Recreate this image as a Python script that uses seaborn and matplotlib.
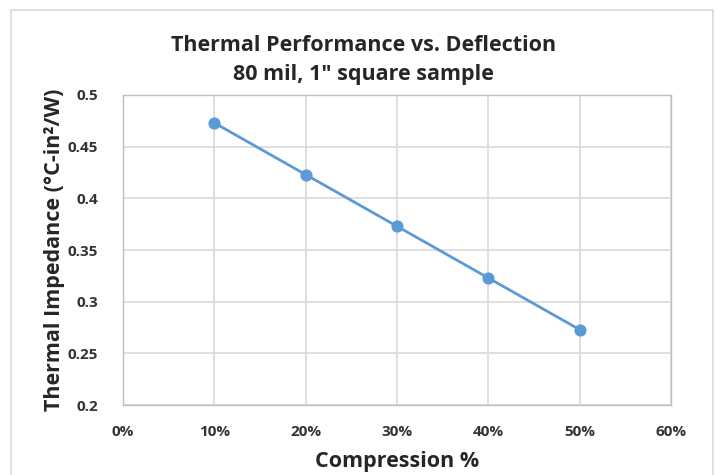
import matplotlib
matplotlib.use("Agg")
import matplotlib.pyplot as plt
import matplotlib.patches as mpatches
from matplotlib.ticker import FuncFormatter
import seaborn as sns
import pandas as pd

compression = [0.10, 0.20, 0.30, 0.40, 0.50]
impedance = [0.473, 0.423, 0.373, 0.323, 0.273]
x_ticks = [0, 0.1, 0.2, 0.3, 0.4, 0.5, 0.6]
y_ticks = [0.2, 0.25, 0.3, 0.35, 0.4, 0.45, 0.5]

sns.set_style("whitegrid")
plt.rcParams['font.family'] = ['Open Sans', 'DejaVu Sans']

df = pd.DataFrame({"compression": compression, "impedance": impedance})

fig = plt.figure(figsize=(7.17, 4.75), dpi=100)
ax = fig.add_axes([0.1716, 0.147, 0.7644, 0.653])

# outer chart frame
fig.patches.append(mpatches.Rectangle((0.016, -0.01), 0.978, 0.99, transform=fig.transFigure,
                                      fill=False, edgecolor="#d9d9d9", linewidth=1.2))

sns.lineplot(data=df, x="compression", y="impedance", ax=ax, color="#5b9bd5",
             linewidth=2, marker="o", markersize=8, markeredgecolor="#5b9bd5")

ax.set_xlim(0, 0.6)
ax.set_ylim(0.2, 0.5)
ax.set_xticks(x_ticks)
ax.set_yticks(y_ticks)
ax.xaxis.set_major_formatter(FuncFormatter(lambda v, p: f"{v*100:.0f}%"))
ax.yaxis.set_major_formatter(FuncFormatter(lambda v, p: f"{v:g}"))
ax.grid(True, color="#d9d9d9", linewidth=1.2)
for s in ax.spines.values():
    s.set_color("#bfbfbf")
    s.set_linewidth(1)
ax.tick_params(axis="both", labelsize=11, colors="#333333", length=0)
ax.tick_params(axis="x", pad=14)
ax.tick_params(axis="y", pad=18)
for lab in ax.get_xticklabels() + ax.get_yticklabels():
    lab.set_fontweight("bold")

ax.set_xlabel("Compression %", fontsize=15.5, fontweight="bold", labelpad=9)
ax.set_ylabel("Thermal Impedance (°C-in²/W)", fontsize=15.5, fontweight="bold", labelpad=2)
fig.text(0.507, 0.874, "Thermal Performance vs. Deflection\n80 mil, 1\" square sample",
         ha="center", va="center", fontsize=15.5, fontweight="bold", linespacing=1.5)

fig.savefig("out.png", dpi=100)
